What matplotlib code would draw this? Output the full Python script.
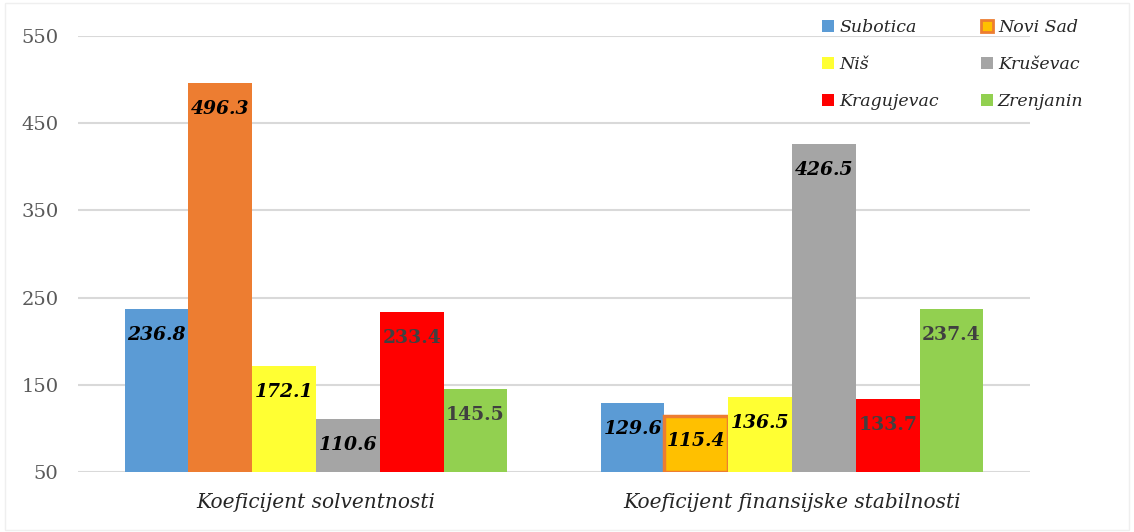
import numpy as np
import matplotlib
matplotlib.use('Agg')
import matplotlib.pyplot as plt
from matplotlib.patches import Rectangle

# Data
categories = ['Koeficijent solventnosti', 'Koeficijent finansijske stabilnosti']
cities = ['Subotica', 'Novi Sad', 'Niš', 'Kruševac', 'Kragujevac', 'Zrenjanin']
subotica = [236.8, 129.6]
novi_sad = [496.3, 115.4]
nis = [172.1, 136.5]
krusevac = [110.6, 426.5]
kragujevac = [233.4, 133.7]
zrenjanin = [145.5, 237.4]
yticks = [50, 150, 250, 350, 450, 550]

series = [subotica, novi_sad, nis, krusevac, kragujevac, zrenjanin]
colors = ['#5B9BD5', '#ED7D31', '#FFFF33', '#A5A5A5', '#FF0000', '#92D050']

plt.rcParams['font.family'] = 'DejaVu Serif'

fig = plt.figure(figsize=(11.34, 5.32), dpi=100)
ax = fig.add_axes([78 / 1134, 1 - 472 / 532, 952 / 1134, 436 / 532])
fig.patches.append(Rectangle((0.004, 0.004), 0.992, 0.99, transform=fig.transFigure,
                             fill=False, edgecolor='#EFEFEF', lw=1))

x = np.arange(len(categories))
w = 0.134
offsets = (np.arange(6) - 2.5) * w
handles = []
for i, (vals, c) in enumerate(zip(series, colors)):
    bars = ax.bar(x + offsets[i], np.array(vals) - 50, w, bottom=50, color=c, zorder=3)
    if i == 1:
        # second group Novi Sad drawn gold with orange border
        bars[1].set_facecolor('#FFC000')
        bars[1].set_edgecolor('#ED7D31')
        bars[1].set_linewidth(2.5)
        bars[1].set_height(vals[1] - 50 - 1)
        handles.append(Rectangle((0, 0), 1, 1, facecolor='#FFC000', edgecolor='#ED7D31', lw=2))
    else:
        handles.append(Rectangle((0, 0), 1, 1, facecolor=c))
    for j, v in enumerate(vals):
        if i >= 4:
            ax.text(x[j] + offsets[i], v - 30, f'{v:.1f}', ha='center', va='center',
                    fontsize=13.5, fontweight='bold', color='#404040', zorder=4)
        else:
            ax.text(x[j] + offsets[i], v - 30, f'{v:.1f}', ha='center', va='center',
                    fontsize=13.5, fontweight='bold', style='italic', color='black', zorder=4)

ax.set_xlim(-0.5, 1.5)
ax.set_ylim(50, 550)
ax.set_yticks(yticks)
ax.set_yticklabels([str(t) for t in yticks], color='#595959', fontsize=14)
ax.set_xticks(x)
ax.set_xticklabels(categories, style='italic', fontsize=14.5, color='#262626')
ax.tick_params(axis='both', length=0)
ax.tick_params(axis='y', pad=14)
ax.tick_params(axis='x', pad=15)
ax.grid(axis='y', color='#D9D9D9', lw=1.5, zorder=0)
for s in ax.spines.values():
    s.set_visible(False)

order = [0, 2, 4, 1, 3, 5]
leg = ax.legend([handles[k] for k in order], [cities[k] for k in order], ncol=2,
                loc='upper left', bbox_to_anchor=(0.765, 1.075), frameon=False,
                prop={'style': 'italic', 'size': 12.5}, handlelength=0.7, handleheight=0.7,
                handletextpad=0.3, columnspacing=2.4, labelspacing=1.15)
for t in leg.get_texts():
    t.set_color('#262626')

fig.savefig('out.png', dpi=100)
